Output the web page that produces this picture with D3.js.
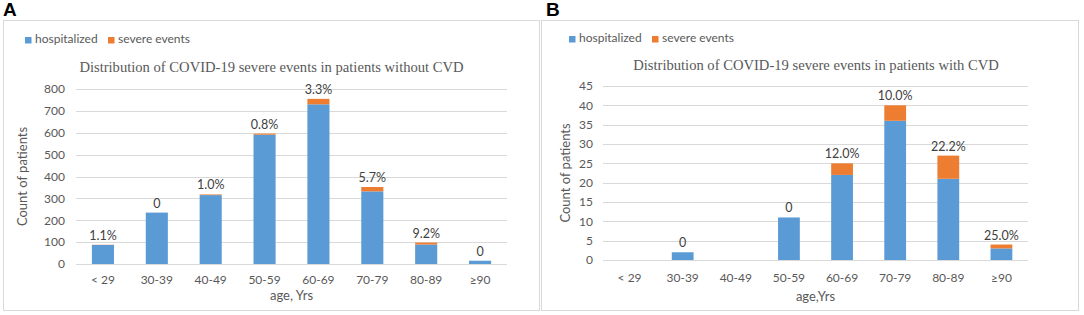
<!DOCTYPE html>
<html>
<head>
<meta charset="utf-8">
<script src="https://cdn.jsdelivr.net/npm/d3@7"></script>
<style>
    body { margin: 0; background: #fff; }
    text { font-family: Lato, "Open Sans", sans-serif; }
</style>
</head>
<body>
<div id="chart"></div>
<script>
// age groups shared by both panels
let ageGroups = ["< 29", "30-39", "40-49", "50-59", "60-69", "70-79", "80-89", "≥90"];

// panel A: patients without CVD
let hospA = [87, 235, 315, 591, 730, 332, 89, 15];
let severeA = [1, 0, 3, 5, 25, 20, 9, 0];
let labelsA = ["1.1%", "0", "1.0%", "0.8%", "3.3%", "5.7%", "9.2%", "0"];
let ticksA = [0, 100, 200, 300, 400, 500, 600, 700, 800];

// panel B: patients with CVD
let hospB = [0, 2, 0, 11, 22, 36, 21, 3];
let severeB = [0, 0, 0, 0, 3, 4, 6, 1];
let labelsB = ["", "0", "", "0", "12.0%", "10.0%", "22.2%", "25.0%"];
let ticksB = [0, 5, 10, 15, 20, 25, 30, 35, 40, 45];

let blue = "#5b9bd5", orange = "#ed7d31", grey = "#595959";

let svg = d3.select("#chart").append("svg")
    .attr("width", 1084)
    .attr("height", 315);

function drawPanel(p) {
    let g = svg.append("g");

    // frame
    g.append("rect")
        .attr("x", p.frame[0] + 0.5).attr("y", 20.5)
        .attr("width", p.frame[1] - p.frame[0]).attr("height", 290)
        .attr("fill", "none").attr("stroke", "#d9d9d9");

    // panel letter
    g.append("text")
        .attr("x", p.frame[0] + p.letterDx).attr("y", 16)
        .style("font-family", "Liberation Sans, Arial, sans-serif")
        .style("font-weight", "bold").style("font-size", "19px")
        .text(p.letter);

    // legend
    let legend = [["hospitalized", blue], ["severe events", orange]];
    legend.forEach(function(l, i) {
        let lx = p.legendX + i * 83;
        g.append("rect").attr("x", lx).attr("y", p.legendY - 6)
            .attr("width", 6.5).attr("height", 6.5).attr("fill", l[1]);
        g.append("text").attr("x", lx + 10).attr("y", p.legendY)
            .style("font-size", "12px").attr("fill", grey).text(l[0]);
    });

    // title
    g.append("text")
        .attr("x", p.titleX).attr("y", p.titleY)
        .attr("text-anchor", "middle")
        .style("font-family", "Liberation Serif, Times New Roman, serif")
        .style("font-size", "14.6px").attr("fill", grey)
        .text(p.title);

    let x = d3.scaleBand().domain(ageGroups).range([p.left, p.right]).paddingInner(0.59).paddingOuter(0.295);
    let y = d3.scaleLinear().domain([0, d3.max(p.ticks)]).range([p.bottom, p.top]);

    // gridlines
    g.append("g").selectAll("line").data(p.ticks).enter().append("line")
        .attr("x1", p.left).attr("x2", p.right)
        .attr("y1", d => Math.round(y(d)) + 0.5).attr("y2", d => Math.round(y(d)) + 0.5)
        .attr("stroke", "#d9d9d9");

    // y axis labels
    let yAxis = d3.axisLeft(y).tickValues(p.ticks).tickSize(0).tickPadding(p.tickPad);
    let yg = g.append("g").attr("transform", `translate(${p.left},0)`).call(yAxis);
    yg.select(".domain").remove();
    yg.selectAll("text").style("font-size", "12px").style("font-family", "Lato, sans-serif").attr("fill", grey);

    // x axis labels
    let xAxis = d3.axisBottom(x).tickSize(0).tickPadding(p.xPad);
    let xg = g.append("g").attr("transform", `translate(0,${p.bottom})`).call(xAxis);
    xg.select(".domain").remove();
    xg.selectAll("text").style("font-size", "12px").style("font-family", "Lato, sans-serif").attr("fill", grey);

    // bars
    let data = ageGroups.map((a, i) => ({age: a, hosp: p.hosp[i], severe: p.severe[i], label: p.labels[i]}));
    g.append("g").selectAll("rect").data(data).enter().append("rect")
        .attr("x", d => x(d.age)).attr("width", x.bandwidth())
        .attr("y", d => y(d.hosp)).attr("height", d => y(0) - y(d.hosp))
        .attr("fill", blue);
    g.append("g").selectAll("rect").data(data).enter().append("rect")
        .attr("x", d => x(d.age)).attr("width", x.bandwidth())
        .attr("y", d => y(d.hosp + d.severe)).attr("height", d => y(d.hosp) - y(d.hosp + d.severe))
        .attr("fill", orange);

    // percentage labels
    g.append("g").selectAll("text").data(data).enter().append("text")
        .attr("x", d => x(d.age) + x.bandwidth() / 2)
        .attr("y", d => y(d.hosp + d.severe) - 5)
        .attr("text-anchor", "middle")
        .style("font-size", "12.5px").attr("fill", "#404040")
        .text(d => d.label);

    // axis titles
    g.append("text")
        .attr("transform", `translate(${p.yTitleX},${(p.top + p.bottom) / 2}) rotate(-90)`)
        .attr("text-anchor", "middle")
        .style("font-size", "13px").attr("fill", grey)
        .text("Count of patients");
    g.append("text")
        .attr("x", (p.left + p.right) / 2).attr("y", p.xTitleY)
        .attr("text-anchor", "middle")
        .style("font-size", "13px").attr("fill", grey)
        .text(p.xTitle);
}

drawPanel({
    letter: "A", letterDx: 0, frame: [3, 539],
    legendX: 25, legendY: 43, titleX: 271.5, titleY: 72,
    title: "Distribution of COVID-19 severe events in patients without CVD",
    left: 76, right: 507, top: 89, bottom: 264,
    ticks: ticksA, hosp: hospA, severe: severeA, labels: labelsA,
    tickPad: 11, xPad: 11, yTitleX: 27, xTitleY: 300, xTitle: "age, Yrs"
});

drawPanel({
    letter: "B", letterDx: 5, frame: [541, 1078],
    legendX: 569, legendY: 42, titleX: 816, titleY: 70,
    title: "Distribution of COVID-19 severe events in patients with CVD",
    left: 603, right: 1028, top: 86, bottom: 260,
    ticks: ticksB, hosp: hospB, severe: severeB, labels: labelsB,
    tickPad: 10, xPad: 13, yTitleX: 570, xTitleY: 301, xTitle: "age,Yrs"
});
</script>
</body>
</html>
